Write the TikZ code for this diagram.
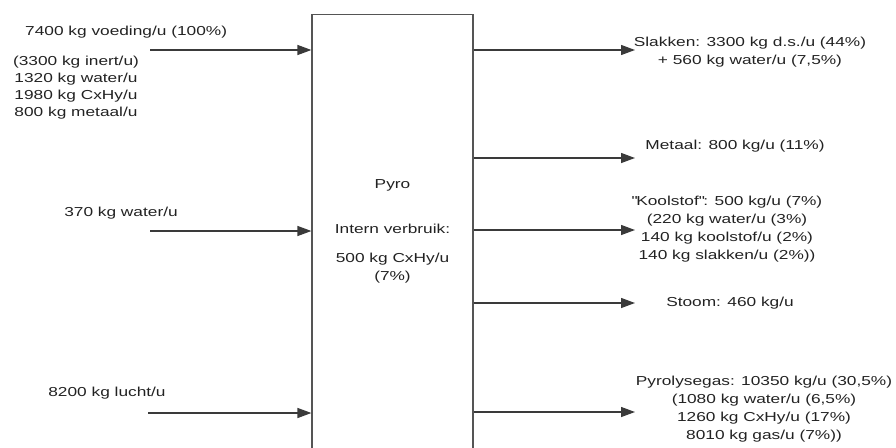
\documentclass[tikz,border=0pt]{standalone}
\usepackage{fontspec}
\setmainfont{Liberation Sans}[FakeStretch=1.33]
\usetikzlibrary{arrows.meta, positioning}
\definecolor{box-border}{HTML}{555555}
\definecolor{arrow}{HTML}{3A3A3A}
\definecolor{label}{HTML}{222222}
\tikzset{
  reactor/.style={
    rectangle, draw=box-border, line width=1.2pt,
    minimum width=161pt, minimum height=470pt, anchor=north
  },
  reactor-text/.style={align=center, text=label, font=\fontsize{13}{18}\selectfont},
  flow-edge/.style={-{Triangle[length=14pt, width=10pt]}, line width=1.3pt, draw=arrow},
  flow-label/.style={inner sep=0pt, align=center, text=label, font=\fontsize{13}{18}\selectfont}
}

\begin{document}
\begin{tikzpicture}[x=1pt, y=-1pt]
  \useasboundingbox (0,0) rectangle (896,447);
  \clip (0,0) rectangle (896,447);

  % Pyrolysis unit (runs off the bottom of the picture)
  \node[reactor] (pyro) at (392.5,14) {};
  \node[reactor-text] (pyro-text) at (392.5,231)
    {Pyro\\[27pt]Intern verbruik:\\[11pt]500 kg CxHy/u\\(7\%)};

  % Incoming streams
  \node[flow-label, anchor=west] (lbl-feed) at (25,32) {7400 kg voeding/u (100\%)};
  \node[flow-label, font=\fontsize{13}{17}\selectfont] (lbl-feed-mix) at (76,88)
    {(3300 kg inert/u)\\1320 kg water/u\\1980 kg CxHy/u\\800 kg metaal/u};
  \node[flow-label] (lbl-water) at (121,213) {370 kg water/u};
  \node[flow-label] (lbl-air)   at (107,393) {8200 kg lucht/u};

  \coordinate (in-feed)  at (150,50);
  \coordinate (in-water) at (150,231);
  \coordinate (in-air)   at (148,413);

  \draw[flow-edge] (in-feed)  -- (in-feed -| pyro.west);
  \draw[flow-edge] (in-water) -- (in-water -| pyro.west);
  \draw[flow-edge] (in-air)   -- (in-air -| pyro.west);

  % Outgoing streams
  \node[flow-label] (lbl-slag) at (750,52)
    {Slakken: 3300 kg d.s./u (44\%)\\+ 560 kg water/u (7,5\%)};
  \node[flow-label] (lbl-metal) at (735,146) {Metaal: 800 kg/u (11\%)};
  \node[flow-label] (lbl-carbon) at (727,229)
    {\textquotedbl Koolstof\textquotedbl: 500 kg/u (7\%)\\(220 kg water/u (3\%)\\140 kg koolstof/u (2\%)\\140 kg slakken/u (2\%))};
  \node[flow-label] (lbl-steam) at (730,303) {Stoom: 460 kg/u};
  \node[flow-label] (lbl-gas) at (764,409)
    {Pyrolysegas: 10350 kg/u (30,5\%)\\(1080 kg water/u (6,5\%)\\1260 kg CxHy/u (17\%)\\8010 kg gas/u (7\%))};

  \coordinate (out-slag)   at (635,50);
  \coordinate (out-metal)  at (635,158);
  \coordinate (out-carbon) at (635,230);
  \coordinate (out-steam)  at (635,303);
  \coordinate (out-gas)    at (635,412);

  \draw[flow-edge] (out-slag -| pyro.east)   -- (out-slag);
  \draw[flow-edge] (out-metal -| pyro.east)  -- (out-metal);
  \draw[flow-edge] (out-carbon -| pyro.east) -- (out-carbon);
  \draw[flow-edge] (out-steam -| pyro.east)  -- (out-steam);
  \draw[flow-edge] (out-gas -| pyro.east)    -- (out-gas);
\end{tikzpicture}
\end{document}
